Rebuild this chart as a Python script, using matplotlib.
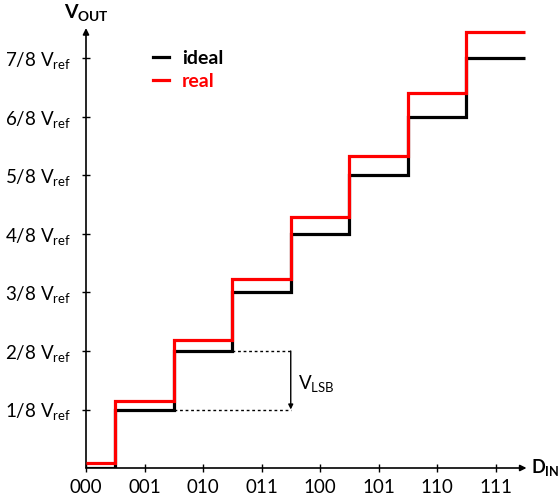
import matplotlib

matplotlib.use("Agg")

import matplotlib.pyplot as plt
import numpy as np

plt.rcParams["font.family"] = ["Lato", "DejaVu Sans"]
plt.rcParams["mathtext.fontset"] = "custom"
plt.rcParams["mathtext.rm"] = "Lato"
plt.rcParams["mathtext.it"] = "Lato:italic"
plt.rcParams["mathtext.bf"] = "Lato:bold"

codes = ["000", "001", "010", "011", "100", "101", "110", "111"]
ideal_levels = [0, 1, 2, 3, 4, 5, 6, 7]
real_levels = [0.08, 1.14, 2.19, 3.23, 4.29, 5.34, 6.41, 7.45]
ytick_labels = [f"{k}/8 V$_{{\\mathrm{{ref}}}}$" for k in range(1, 8)]

edges = np.concatenate([[0.0], np.arange(len(codes)) + 0.5])

fig = plt.figure(figsize=(5.6, 4.97), dpi=100)
ax = fig.add_axes([86 / 560, 29 / 497, 450 / 560, 456 / 497])
ax.set_xlim(0, 450 / 58.5)
ax.set_ylim(0, 456 / 58.5)
for side in ax.spines.values():
    side.set_visible(False)

ax.stairs(ideal_levels, edges, baseline=None, color="black", linewidth=2.3, zorder=3, label="ideal")
ax.stairs(real_levels, edges, baseline=None, color="#ff0000", linewidth=2.3, zorder=4, label="real")

# axes drawn as arrows
arrow = dict(arrowstyle="-|>", color="black", lw=1.2, mutation_scale=9, shrinkA=0, shrinkB=0)
ax.annotate("", xy=(7.53, 0), xytext=(0, 0), arrowprops=arrow, annotation_clip=False, zorder=2)
ax.annotate("", xy=(0, 7.52), xytext=(0, 0), arrowprops=arrow, annotation_clip=False, zorder=2)

ax.set_xticks(range(len(codes)))
ax.set_xticklabels(codes, fontsize=13.5)
ax.set_yticks(range(1, 8))
ax.set_yticklabels(ytick_labels, fontsize=13.5)
ax.tick_params(direction="inout", length=6, width=1.0, pad=5)
ax.tick_params(axis="y", pad=8)

ax.text(0, 7.6, r"$\mathbf{V_{OUT}}$", fontsize=14, ha="center", va="bottom", clip_on=False)
ax.text(7.6, 0, r"$\mathbf{D_{IN}}$", fontsize=13, ha="left", va="center", clip_on=False)

# V_LSB marker between levels 1 and 2
ax.plot([2.5, 3.5], [2, 2], color="black", linestyle=(0, (2, 2)), linewidth=1.0, zorder=2)
ax.plot([1.5, 3.5], [1, 1], color="black", linestyle=(0, (2, 2)), linewidth=1.0, zorder=2)
ax.annotate("", xy=(3.5, 1), xytext=(3.5, 2),
            arrowprops=dict(arrowstyle="-|>", color="black", lw=1.0, mutation_scale=7, shrinkA=0, shrinkB=0))
ax.text(3.62, 1.45, r"V$_{\mathrm{LSB}}$", fontsize=13.5, ha="left", va="center")

leg = ax.legend(loc="upper left", bbox_to_anchor=(0.11, 0.955), frameon=False, handlelength=0.8,
                handletextpad=0.7, labelspacing=0.3, prop={"weight": "bold", "size": 14})
for txt, col in zip(leg.get_texts(), ["black", "#ff0000"]):
    txt.set_color(col)

fig.savefig("out.png", dpi=100)
